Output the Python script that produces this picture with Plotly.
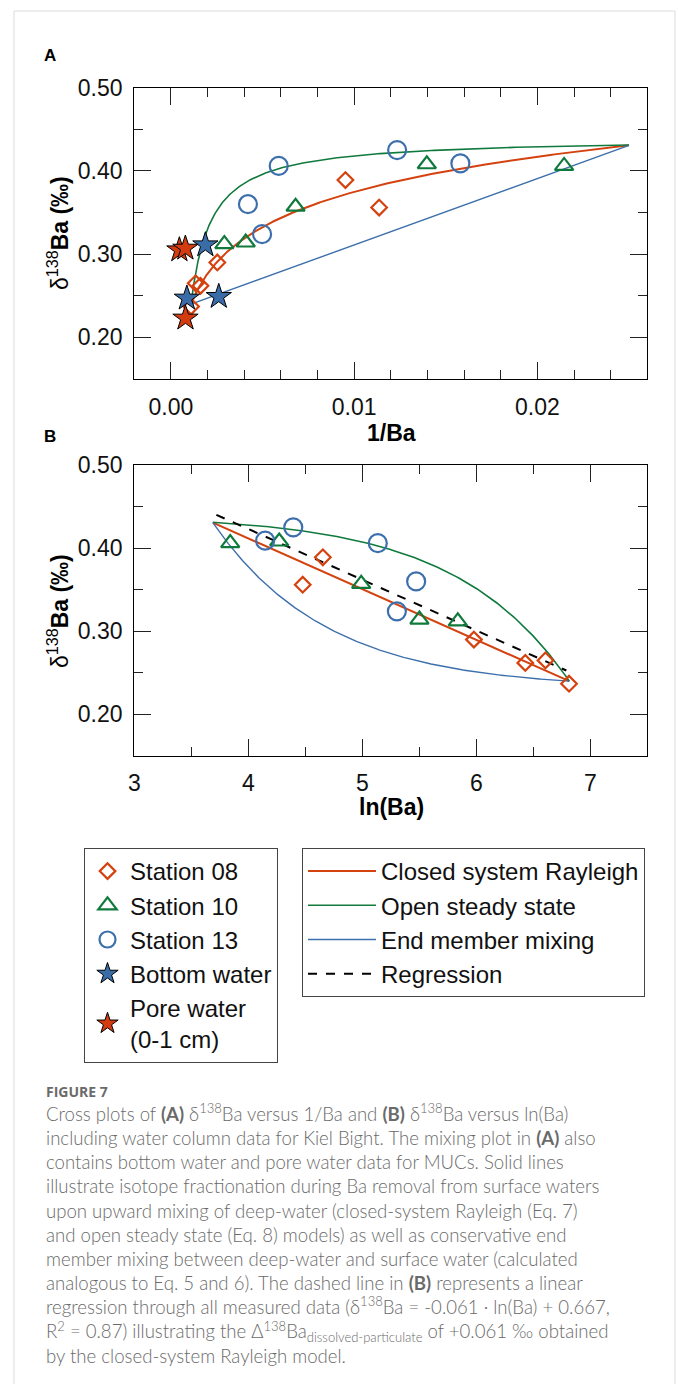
import numpy as np
import plotly.graph_objects as go

# ---- measured data: dissolved Ba (nmol/kg) and d138Ba (permil) ----
st08_ba = [88, 105, 395, 620, 740, 910]
st08_d = [0.356, 0.389, 0.290, 0.262, 0.265, 0.237]
st10_ba = [46.6, 71.6, 147, 245, 343]
st10_d = [0.406, 0.408, 0.357, 0.314, 0.312]
st13_ba = [63.3, 81, 170, 201, 238]
st13_d = [0.409, 0.425, 0.406, 0.324, 0.360]
# MUC bottom water and pore water (0-1 cm)
bw_ba = [532, 1150, 383]
bw_d = [0.311, 0.247, 0.249]
pw_ba = [2170, 1270, 1260]
pw_d = [0.305, 0.307, 0.223]

# ---- model parameters ----
BA_DEEP, D_DEEP = 912.0, 0.240   # deep-water end member
BA_SURF = 40.0                   # surface-water end member
EPS_RAYLEIGH = 0.061             # closed-system Rayleigh (Eq. 7)
EPS_OPEN = 0.200                 # open steady state (Eq. 8)
REG_SLOPE, REG_INTERCEPT = -0.061, 0.667
REG_LN_RANGE = [3.72, 6.79]

# ---- model curves ----
ba_model = np.geomspace(BA_SURF, BA_DEEP, 300)
frac = ba_model / BA_DEEP
d_rayleigh = D_DEEP - EPS_RAYLEIGH * np.log(frac)
d_open = D_DEEP + EPS_OPEN * (1 - frac)
d_surf = D_DEEP - EPS_RAYLEIGH * np.log(BA_SURF / BA_DEEP)
d_mix = D_DEEP + (d_surf - D_DEEP) * (1 / ba_model - 1 / BA_DEEP) / (1 / BA_SURF - 1 / BA_DEEP)
reg_x = np.array(REG_LN_RANGE)
reg_y = REG_SLOPE * reg_x + REG_INTERCEPT

RED = "#d4420f"
GREEN = "#107a3d"
BLUE = "#3c6fab"
RED_FILL = "#d43c10"
BLUE_FILL = "#3a6da8"

W, H = 678, 1384
ARIAL = "Liberation Sans, Arial, sans-serif"


def px(x):
    return x / W


def py(y):
    return 1 - y / H


def inv(v):
    return 1 / np.asarray(v, dtype=float)


def ln(v):
    return np.log(np.asarray(v, dtype=float))


fig = go.Figure()

# model lines (drawn beneath the symbols)
lines = [
    ("Closed system Rayleigh", d_rayleigh, RED, 2.0),
    ("Open steady state", d_open, GREEN, 1.6),
    ("End member mixing", d_mix, BLUE, 1.4),
]
for name, yv, col, lw in lines:
    fig.add_trace(go.Scatter(x=inv(ba_model), y=yv, mode="lines", name=name,
                             line=dict(color=col, width=lw), legend="legend2",
                             legendgroup=name, xaxis="x", yaxis="y"))
    fig.add_trace(go.Scatter(x=ln(ba_model), y=yv, mode="lines", name=name,
                             line=dict(color=col, width=lw), legend="legend2",
                             legendgroup=name, showlegend=False, xaxis="x2", yaxis="y2"))
fig.add_trace(go.Scatter(x=reg_x, y=reg_y, mode="lines", name="Regression",
                         line=dict(color="black", width=2, dash="dash"), legend="legend2",
                         legendgroup="Regression", xaxis="x2", yaxis="y2"))

# measured stations
stations = [
    ("Station 08", st08_ba, st08_d, "diamond-open", 12, RED),
    ("Station 10", st10_ba, st10_d, "triangle-up-open", 16, GREEN),
    ("Station 13", st13_ba, st13_d, "circle-open", 18, BLUE),
]
for name, ba, d, sym, sz, col in stations:
    mk = dict(symbol=sym, size=sz, color=col, line=dict(color=col, width=2.2))
    fig.add_trace(go.Scatter(x=inv(ba), y=d, mode="markers", name=name, marker=mk,
                             legend="legend", legendgroup=name, xaxis="x", yaxis="y"))
    fig.add_trace(go.Scatter(x=ln(ba), y=d, mode="markers", name=name, marker=mk,
                             legend="legend", legendgroup=name, showlegend=False,
                             xaxis="x2", yaxis="y2"))

for name, ba, d, col in [("Bottom water", bw_ba, bw_d, BLUE_FILL),
                         ("Pore water<br>(0-1 cm)", pw_ba, pw_d, RED_FILL)]:
    fig.add_trace(go.Scatter(x=inv(ba), y=d, mode="markers", name=name,
                             marker=dict(symbol="star", size=19, color=col,
                                         line=dict(color="black", width=1)),
                             legend="legend", legendgroup=name, xaxis="x", yaxis="y"))

TICKFONT = dict(family=ARIAL, size=23, color="#111")
common = dict(showline=True, linecolor="black", linewidth=1.3, mirror="allticks",
              ticks="inside", ticklen=17, tickwidth=1.3, tickcolor="#222",
              showgrid=False, zeroline=False, tickfont=TICKFONT, automargin=False,
              minor=dict(ticks="inside", ticklen=9, tickwidth=1.3, tickcolor="#222",
                         showgrid=False))

xdom = [px(134.3), px(647.3)]
ydomA = [py(379), py(87.7)]
ydomB = [py(756), py(465)]

LEGEND_FONT = dict(family=ARIAL, size=24, color="#111")
fig.update_layout(
    width=W, height=H, autosize=False,
    margin=dict(l=0, r=0, t=0, b=0, pad=0, autoexpand=False),
    paper_bgcolor="white", plot_bgcolor="white",
    font=dict(family=ARIAL, color="black"),
    xaxis=dict(common, domain=xdom, anchor="y", range=[-0.002, 0.026], tick0=0,
               dtick=0.01, tickformat=".2f", ticklabelstandoff=7,
               minor=dict(common["minor"], dtick=0.002)),
    yaxis=dict(common, domain=ydomA, anchor="x", range=[0.15, 0.50], tick0=0,
               dtick=0.1, tickformat=".2f", ticklabelstandoff=6,
               minor=dict(common["minor"], dtick=0.05)),
    xaxis2=dict(common, domain=xdom, anchor="y2", range=[3, 7.5], tick0=0,
                dtick=1, ticklabelstandoff=6,
                minor=dict(common["minor"], dtick=0.5)),
    yaxis2=dict(common, domain=ydomB, anchor="x2", range=[0.15, 0.50], tick0=0,
                dtick=0.1, tickformat=".2f", ticklabelstandoff=6,
                minor=dict(common["minor"], dtick=0.05)),
    legend=dict(x=px(84), y=py(848), xanchor="left", yanchor="top",
                bordercolor="#444", borderwidth=1, bgcolor="white", font=LEGEND_FONT,
                tracegroupgap=2.7, itemwidth=35, traceorder="normal"),
    legend2=dict(x=px(302), y=py(848), xanchor="left", yanchor="top",
                 bordercolor="#444", borderwidth=1, bgcolor="white", font=LEGEND_FONT,
                 tracegroupgap=2.7, itemwidth=68, traceorder="normal"),
)

ann = []
# panel letters
for letter, y in [("A", 55), ("B", 437)]:
    ann.append(dict(text="<b>%s</b>" % letter, x=px(50), y=py(y), showarrow=False,
                    xref="paper", yref="paper", xanchor="center", yanchor="middle",
                    font=dict(size=17, family=ARIAL)))
# axis titles
ytitle = "δ<sup>138</sup><b>Ba (‰)</b>"
for yc in [233, 611]:
    ann.append(dict(text=ytitle, x=px(58), y=py(yc), textangle=-90, showarrow=False,
                    xref="paper", yref="paper", xanchor="center", yanchor="middle",
                    font=dict(size=23, family=ARIAL)))
for txt, yc in [("<b>1/Ba</b>", 433), ("<b>ln(Ba)</b>", 807)]:
    ann.append(dict(text=txt, x=px(391), y=py(yc), showarrow=False,
                    xref="paper", yref="paper", xanchor="center", yanchor="middle",
                    font=dict(size=23, family=ARIAL)))

# caption
CAP_FONT = "Lato, Open Sans, sans-serif"
CAP_COLOR = "#6a6a6a"
ann.append(dict(text="<b>FIGURE 7</b>", x=px(44), y=py(1091), showarrow=False,
                xref="paper", yref="paper", xanchor="left", yanchor="middle",
                font=dict(size=14, family="Open Sans, sans-serif", color=CAP_COLOR)))
caption = [
    "Cross plots of <b>(A)</b> δ<sup>138</sup>Ba versus 1/Ba and <b>(B)</b> δ<sup>138</sup>Ba versus ln(Ba)",
    "including water column data for Kiel Bight. The mixing plot in <b>(A)</b> also",
    "contains bottom water and pore water data for MUCs. Solid lines",
    "illustrate isotope fractionation during Ba removal from surface waters",
    "upon upward mixing of deep-water (closed-system Rayleigh (Eq. 7)",
    "and open steady state (Eq. 8) models) as well as conservative end",
    "member mixing between deep-water and surface water (calculated",
    "analogous to Eq. 5 and 6). The dashed line in <b>(B)</b> represents a linear",
    "regression through all measured data (δ<sup>138</sup>Ba = -0.061 · ln(Ba) + 0.667,",
    "R<sup>2</sup> = 0.87) illustrating the Δ<sup>138</sup>Ba<sub>dissolved-particulate</sub> of +0.061 ‰ obtained",
    "by the closed-system Rayleigh model.",
]
ann.append(dict(text="<br>".join(caption), x=px(44), y=py(1112 + 5 * 24.2),
                showarrow=False, xref="paper", yref="paper", xanchor="left",
                yanchor="middle", align="left",
                font=dict(size=18.6, family=CAP_FONT, color=CAP_COLOR, weight=300)))

fig.update_layout(annotations=ann)

# light frame around the figure
fig.add_shape(type="rect", xref="paper", yref="paper", x0=px(14), x1=px(675),
              y0=-0.02, y1=py(11), line=dict(color="#dcdcdc", width=1), layer="below")

# the page body carries no margin so the figure sits at the window origin
fig.write_html("out.html", post_script="document.body.style.margin='0px';")
